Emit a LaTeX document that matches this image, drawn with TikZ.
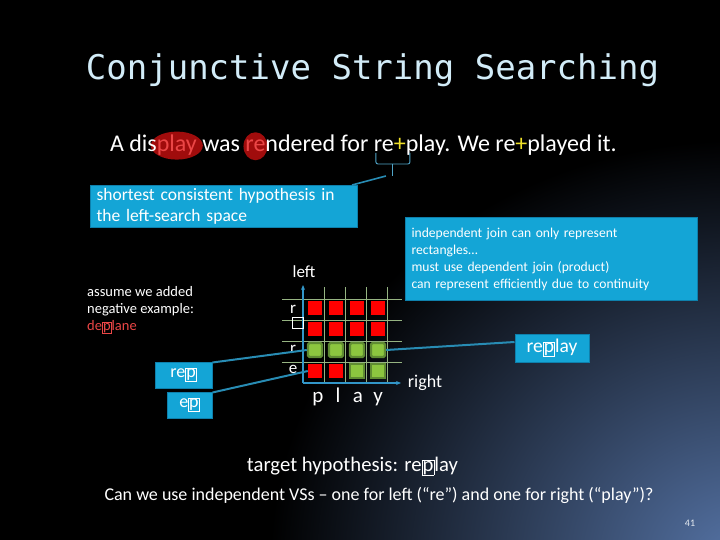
\documentclass[tikz,border=0pt]{standalone}
\usepackage{fontspec}
\setmainfont{Carlito}
\newfontfamily\titlefont{DejaVu Sans Mono}
\usetikzlibrary{positioning,backgrounds,arrows.meta}

\definecolor{slidecyan}{RGB}{20,165,214}
\definecolor{slideedge}{RGB}{14,128,172}
\definecolor{axisblue}{RGB}{50,150,200}
\definecolor{wirecol}{RGB}{40,140,180}
\definecolor{bracecol}{RGB}{80,165,200}
\definecolor{gridcol}{RGB}{150,180,130}
\definecolor{hlred}{RGB}{160,12,12}
\definecolor{txtred}{RGB}{235,70,70}
\definecolor{plusyel}{RGB}{240,225,40}
\definecolor{titlecol}{RGB}{210,236,248}
\definecolor{okgreen}{RGB}{140,198,63}
\definecolor{okedge}{RGB}{95,140,50}
\definecolor{cornerblue}{RGB}{85,115,165}
\pgfdeclareradialshading{cornerglow}{\pgfpoint{0bp}{0bp}}{color(0bp)=(cornerblue); color(25bp)=(black); color(50bp)=(black)}

% small framed letter (cursor mark)
\newcommand{\boxch}[1]{{\setlength{\fboxsep}{0.3pt}\setlength{\fboxrule}{0.7pt}\fbox{#1}}}

\tikzset{
  word/.style={inner sep=0pt, outer sep=0pt, anchor=base west, text=white,
    font=\fontsize{24}{28}\selectfont},
  callout/.style={fill=slidecyan, draw=slideedge, line width=1pt, text=white,
    align=left, inner xsep=6pt, inner ysep=3pt},
  tag/.style={fill=slidecyan, draw=slideedge, line width=1pt, text=white,
    font=\fontsize{18}{21}\selectfont, minimum height=26pt},
  wire/.style={wirecol, line width=2pt},
  brace/.style={bracecol, line width=0.9pt, rounded corners=2pt},
  axis/.style={axisblue, line width=1.6pt, -{Stealth[length=5pt,width=4pt]}},
  gridline/.style={gridcol, line width=0.6pt},
  lbl/.style={text=white, inner sep=0pt, font=\fontsize{17}{20}\selectfont},
  cellr/.style={fill=red, minimum size=14pt, inner sep=0pt},
  cellg/.style={fill=okgreen, draw=okedge, line width=2.4pt, rounded corners=1.5pt,
    minimum size=14pt, inner sep=0pt},
  cellh/.style={fill=okgreen, draw=okedge, line width=1.2pt,
    minimum size=14pt, inner sep=0pt},
}

\begin{document}
\begin{tikzpicture}[x=1pt,y=-1pt]
  \useasboundingbox (0,0) rectangle (720,540);
  \begin{pgfonlayer}{background}
    \fill[black] (0,0) rectangle (720,540);
    \begin{scope}
      \clip (0,0) rectangle (720,540);
      \shade[shading=cornerglow] (740,560) ellipse [x radius=470, y radius=420];
    \end{scope}
  \end{pgfonlayer}

  % title
  \node[text=titlecol, font=\titlefont\fontsize{34}{40}\selectfont] (title) at (372.5,70) {Conjunctive String Searching};

  % the sentence
  \node[word] (w1) at (110,152) {A dis};
  \node[word, text=txtred] (w2) at (w1.base east) {play};
  \node[word] (w3) at (w2.base east) {\mbox{} was \mbox{}};
  \node[word, text=txtred] (w4) at (w3.base east) {re};
  \node[word] (w5) at (w4.base east) {ndered for \mbox{}};
  \node[word] (w6) at (w5.base east) {re};
  \node[word, text=plusyel] (w7) at (w6.base east) {+};
  \node[word] (w8) at (w7.base east) {play. We re};
  \node[word, text=plusyel] (w9) at (w8.base east) {+};
  \node[word] (w10) at (w9.base east) {played it.};
  \begin{pgfonlayer}{background}
    \fill[hlred] (w2.center) ellipse [x radius=26, y radius=14];
    \fill[hlred] (w4.center) ellipse [x radius=12, y radius=14];
  \end{pgfonlayer}

  % brace under re
  \coordinate (bl) at ([xshift=2pt,yshift=-1pt]w6.base west);
  \draw[brace] (bl) -- ++(0,11) -- ++(34,0) -- ++(0,-11);
  \draw[brace] ([xshift=17pt]bl) ++(0,11) -- ++(0,12) coordinate (tip);

  % callouts
  \node[callout, anchor=north west, text width=255pt, font=\fontsize{17.5}{21}\selectfont] (hyp) at (90,185)
    {shortest consistent hypothesis in\\the left-search space};
  \draw[wire, line width=1.6pt] ([xshift=-7pt]tip) -- ([xshift=-6pt]hyp.north east);
  \node[callout, anchor=north west, text width=280pt, minimum height=83pt, font=\fontsize{13.6}{17}\selectfont] (join) at (405,217)
    {independent join can only represent\\rectangles\dots\\must use dependent join (product)\\can represent efficiently due to continuity};

  \node[anchor=north west, inner sep=0pt, align=left, text=white, font=\fontsize{14.5}{17}\selectfont] (note) at (87,286)
    {assume we added\\negative example:\\\textcolor{txtred}{de\boxch{p}lane}};

  % grid
  \foreach \k in {1,...,4} {
    \draw[gridline] (282,383-21*\k) -- (402,383-21*\k);
    \draw[gridline] (303+21*\k,287) -- (303+21*\k,383);
  }
  \coordinate (O) at (303,383);
  \draw[axis] (O) -- (303,285);
  \draw[axis] (O) -- (401,383);
  \node[lbl] (lefty) at (304,272) {left};
  \node[lbl, font=\fontsize{18}{21}\selectfont] (righty) at (425,383) {right};

  \foreach \j/\pat in {4/{cellr,cellr,cellr,cellr},3/{cellr,cellr,cellr,cellr},
                       2/{cellg,cellg,cellg,cellg},1/{cellr,cellr,cellh,cellh}}
    \foreach \st [count=\i] in \pat
      \node[\st] (c-\i-\j) at (303+21*\i-9, 383-21*\j+9) {};

  \node[lbl] (row-4) at (293,309) {r};
  \node[draw=white, line width=0.7pt, minimum size=11pt, inner sep=0pt] (row-3) at (298,323) {};
  \node[lbl] (row-2) at (293,349) {r};
  \node[lbl] (row-1) at (293,369) {e};
  \foreach \ch [count=\i] in {p,l,a,y}
    \node[lbl, anchor=base, font=\fontsize{21}{24}\selectfont] (col-\i) at (298+20*\i, 402) {\ch};

  % hypotheses
  \node[tag, minimum width=57pt] (rep) at (183.5,375) {re\boxch{p}};
  \node[tag, minimum width=45pt] (ep) at (189.5,405) {e\boxch{p}};
  \node[tag, minimum width=74pt, minimum height=28pt, font=\fontsize{19.5}{22}\selectfont] (replay) at (552,348) {re\boxch{p}lay};
  \draw[wire] ([yshift=-1pt]rep.north east) -- (c-1-2.west);
  \draw[wire] ([yshift=-1pt]ep.north east) -- (c-1-1.west);
  \draw[wire] (c-4-2.east) -- ([yshift=6pt]replay.west);

  % bottom lines
  \node[text=white, font=\fontsize{20.7}{24}\selectfont] (target) at (352.5,466) {target hypothesis: re\boxch{p}lay};
  \node[text=white, font=\fontsize{18}{21}\selectfont] (question) at (379,495)
    {Can we use independent VSs -- one for left (``re'') and one for right (``play'')?};
  \node[text=white!85!cornerblue, font=\fontsize{10}{12}\selectfont] (page) at (690,523) {41};
\end{tikzpicture}
\end{document}
